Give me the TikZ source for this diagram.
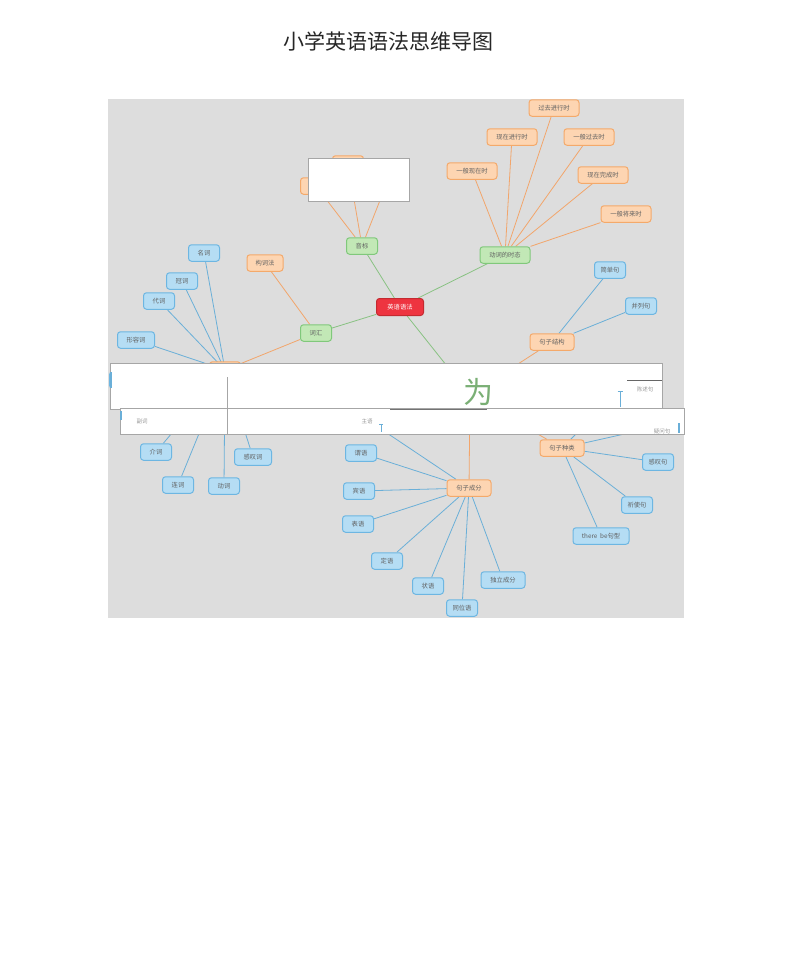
\documentclass[tikz,border=0pt]{standalone}
\usepackage{fontspec}
\newfontfamily\cjk{Noto Sans CJK SC}
\definecolor{bgG}{HTML}{DDDDDD}
\definecolor{blueF}{HTML}{B5DDF4}
\definecolor{blueB}{HTML}{6DB6E2}
\definecolor{orF}{HTML}{FDD5B2}
\definecolor{orB}{HTML}{F4A96A}
\definecolor{grF}{HTML}{C2E8B6}
\definecolor{grB}{HTML}{80C87B}
\definecolor{redF}{HTML}{EE3440}
\definecolor{redB}{HTML}{C42A30}
\definecolor{lnB}{HTML}{6AAFD8}
\definecolor{lnO}{HTML}{F2A56B}
\definecolor{lnG}{HTML}{88C282}
\definecolor{boxB}{HTML}{A6A6A6}
\definecolor{bandT}{HTML}{9A9A9A}
\pgfdeclarelayer{bgl}
\pgfdeclarelayer{edges}
\pgfsetlayers{bgl,edges,main}
\tikzset{
  mm/.style={rounded corners=3pt, line width=1pt, minimum height=16.5pt, inner xsep=4pt, inner ysep=1pt,
     font=\cjk\fontsize{6.3}{7}\selectfont, text=black!62},
  bl/.style={mm, draw=blueB, fill=blueF, minimum width=31pt},
  orn/.style={mm, draw=orB, fill=orF, minimum width=31pt},
  grn/.style={mm, draw=grB, fill=grF, minimum width=31pt},
  rootn/.style={mm, draw=redB, fill=redF, text=white, minimum width=47pt, minimum height=17pt},
  eb/.style={draw=lnB, line width=0.8pt},
  eo/.style={draw=lnO, line width=0.8pt},
  eg/.style={draw=lnG, line width=0.8pt},
  band/.style={draw=boxB, fill=white, line width=0.9pt},
  bandtxt/.style={font=\cjk\fontsize{5.5}{6}\selectfont, text=bandT, inner sep=0pt},
}
\begin{document}
\begin{tikzpicture}[x=1pt,y=-1pt]
\useasboundingbox (0,0) rectangle (800,972);
\begin{pgfonlayer}{bgl}
\fill[white] (0,0) rectangle (800,972);
\fill[bgG] (108,99) rectangle (684,618);
\end{pgfonlayer}
\node[font=\cjk\fontsize{21}{24}\selectfont, text=black!85] (title) at (388,41) {小学英语语法思维导图};

% root and main branches
\node[rootn] (root) at (400,307) {英语语法};
\node[grn] (yinbiao) at (362,246) {音标};
\node[grn] (cihui) at (316,333) {词汇};
\node[grn, minimum width=50pt] (shitai) at (505,255) {动词的时态};
\node[grn] (jufa) at (470,395) {};

% yinbiao children (hidden under box)
\node[orn] (yb1) at (316,186) {};
\node[orn] (yb2) at (348,164) {};
\node[orn] (yb3) at (388,180) {};

% cihui children
\node[orn, minimum width=36pt] (gouci) at (265,263) {构词法};
\node[orn] (cilei) at (225,370) {};

% tenses
\node[orn, minimum width=50pt] (t1) at (472,171) {一般现在时};
\node[orn, minimum width=50pt] (t2) at (512,137) {现在进行时};
\node[orn, minimum width=50pt] (t3) at (554,108) {过去进行时};
\node[orn, minimum width=50pt] (t4) at (589,137) {一般过去时};
\node[orn, minimum width=50pt] (t5) at (603,175) {现在完成时};
\node[orn, minimum width=50pt] (t6) at (626,214) {一般将来时};

% word classes
\node[bl] (w1) at (204,253) {名词};
\node[bl] (w2) at (182,281) {冠词};
\node[bl] (w3) at (159,301) {代词};
\node[bl, minimum width=37pt] (w4) at (136,340) {形容词};
\node[bl] (w5) at (125,380) {};
\node[bl] (w6) at (145,420) {};
\node[bl] (w7) at (156,452) {介词};
\node[bl] (w8) at (178,485) {连词};
\node[bl] (w9) at (224,486) {动词};
\node[bl, minimum width=37pt] (w10) at (253,457) {感叹词};

% syntax
\node[orn, minimum width=44pt] (jiegou) at (552,342) {句子结构};
\node[bl] (s1) at (610,270) {简单句};
\node[bl] (s2) at (641,306) {并列句};
\node[orn, minimum width=44pt] (zhonglei) at (562,448) {句子种类};
\node[bl] (k1) at (618,392) {};
\node[bl] (k2) at (660,426) {};
\node[bl] (k3) at (658,462) {感叹句};
\node[bl] (k4) at (637,505) {祈使句};
\node[bl, minimum width=56pt] (k5) at (601,536) {there\ \ be句型};
\node[orn, minimum width=44pt] (chengfen) at (469,488) {句子成分};
\node[bl] (c0) at (372,423) {};
\node[bl] (c1) at (361,453) {谓语};
\node[bl] (c2) at (359,491) {宾语};
\node[bl] (c3) at (358,524) {表语};
\node[bl] (c4) at (387,561) {定语};
\node[bl] (c5) at (428,586) {状语};
\node[bl] (c6) at (462,608) {同位语};
\node[bl, minimum width=44pt] (c7) at (503,580) {独立成分};

\begin{pgfonlayer}{edges}
\draw[eg] (root) -- (yinbiao);
\draw[eg] (root) -- (cihui);
\draw[eg] (root) -- (shitai);
\draw[eg] (root) -- (jufa);
\foreach \n in {yb1,yb2,yb3} \draw[eo] (yinbiao) -- (\n);
\draw[eo] (cihui) -- (gouci);
\draw[eo] (cihui) -- (cilei);
\foreach \n in {t1,t2,t3,t4,t5,t6} \draw[eo] (shitai) -- (\n);
\foreach \n in {w1,w2,w3,w4,w5,w6,w7,w8,w9,w10} \draw[eb] (cilei.center) -- (\n);
\draw[eo] (jufa) -- (jiegou);
\draw[eo] (jufa) -- (zhonglei);
\draw[eo] (jufa) -- (chengfen);
\draw[eb] (jiegou) -- (s1);
\draw[eb] (jiegou) -- (s2);
\foreach \n in {k1,k2,k3,k4,k5} \draw[eb] (zhonglei) -- (\n);
\foreach \n in {c0,c1,c2,c3,c4,c5,c6,c7} \draw[eb] (chengfen) -- (\n);
\end{pgfonlayer}

% white box over phonetics children
\draw[band] (308,158) rectangle (409,201);

% white bands
\draw[band] (110,363) rectangle (662,409);
\draw[band] (120,408) rectangle (684,434);
\draw[boxB, line width=0.9pt] (227,377) -- (227,434);
\draw[black!60, line width=0.7pt] (627,380) -- (662,380);
\draw[black!55, line width=0.6pt] (390,409) -- (487,409);
\draw[lnB, line width=1.2pt] (111,372) -- (111,388);
\draw[lnB, line width=1.2pt] (121,411) -- (121,420);
\draw[lnB, line width=1.2pt] (679,423) -- (679,433);
\draw[lnB, line width=0.9pt] (620,391) -- (620,407) (617.5,391) -- (622.5,391);
\draw[lnB, line width=0.9pt] (381,424) -- (381,432) (379,424) -- (383,424);
\node[font=\cjk\fontsize{30}{32}\selectfont, text=lnG!90!black, inner sep=0pt] (wei) at (478,392) {为};
\node[bandtxt] (tf) at (142,421) {副词};
\node[bandtxt] (tz) at (367,421) {主语};
\node[bandtxt] (tc) at (645,389) {陈述句};
\node[bandtxt] (ty) at (662,431) {疑问句};
\end{tikzpicture}
\end{document}
